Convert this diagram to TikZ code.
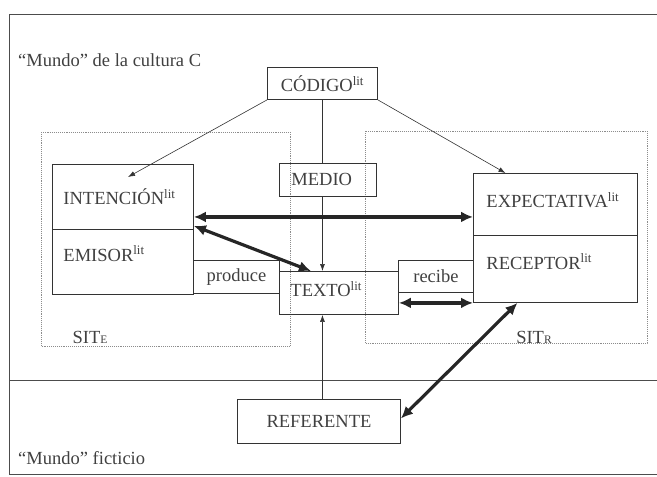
\documentclass[tikz,border=0pt]{standalone}
\usepackage{fontspec}
\setmainfont{Liberation Serif}
\usetikzlibrary{arrows.meta}

\begin{document}
\begin{tikzpicture}[x=1pt, y=-1pt,
  every node/.style={text=black!75, font=\fontsize{18.5}{21}\selectfont},
  box/.style={draw=black!80, line width=0.9pt, inner sep=0pt, anchor=north west},
  lbox/.style={box, align=left, inner xsep=11pt},
  marco/.style={draw=black!70, line width=0.8pt},
  sitbox/.style={draw=black!45, line width=0.9pt, densely dotted},
  flecha/.style={draw=black!80, line width=0.6pt, -{Latex[length=7pt,width=5pt]}},
  linea/.style={draw=black!80, line width=0.6pt},
  doble/.style={draw=black!85, line width=3.2pt,
    {Latex[length=12pt,width=11pt]}-{Latex[length=12pt,width=11pt]}}]

  \useasboundingbox (0,0) rectangle (657,477);

  % --- Frame ---
  \draw[marco] (657,14) -- (9,14) -- (9,474) -- (657,474);
  \draw[marco] (9,380) -- (657,380);

  % --- Situations ---
  \draw[sitbox] (41,132) rectangle (290,346);
  \draw[sitbox] (365,131) rectangle (647,343);

  % --- Labels ---
  \node[anchor=west, inner sep=0pt] (mundoC) at (18,60) {“Mundo” de la cultura C};
  \node[anchor=west, inner sep=0pt] (mundoF) at (18,458) {“Mundo” ficticio};
  \node[inner sep=0pt] (sitE) at (90,337) {SIT{\fontsize{11.5}{12}\selectfont E}};
  \node[inner sep=0pt] (sitR) at (534,337) {SIT{\fontsize{11.5}{12}\selectfont R}};

  % --- Boxes ---
  \node[box, minimum width=110, minimum height=32] (codigo) at (267,67) {CÓDIGO\textsuperscript{lit}};
  \node[lbox, text width=119pt, minimum height=65] (intencion) at (52,164) {INTENCIÓN\textsuperscript{lit}};
  \node[lbox, text width=119pt, minimum height=65, text depth=17pt] (emisor) at (52,229) {EMISOR\textsuperscript{lit}};
  \node[lbox, inner xsep=12pt, text width=73pt, minimum height=33] (medio) at (279,163) {MEDIO};
  \node[box, minimum width=86, minimum height=33] (produce) at (193,260) {produce};
  \node[lbox, text width=97pt, minimum height=43, text depth=8pt] (texto) at (279,271) {TEXTO\textsuperscript{lit}};
  \node[box, minimum width=75, minimum height=32] (recibe) at (398,260) {recibe};
  \node[lbox, inner xsep=13pt, text width=138pt, minimum height=62, text depth=9pt] (expectativa) at (473,173) {EXPECTATIVA\textsuperscript{lit}};
  \node[lbox, inner xsep=13pt, text width=138pt, minimum height=67, text depth=15pt] (receptor) at (473,235) {RECEPTOR\textsuperscript{lit}};
  \node[box, minimum width=163, minimum height=44] (referente) at (237,399) {REFERENTE};

  % --- Code and medium ---
  \coordinate (intencion-in) at (128,177);
  \draw[flecha] (codigo.south west) -- (intencion-in);
  \draw[flecha] (codigo.south east) -- ([xshift=-50pt]expectativa.north);
  \draw[linea] (codigo.south) -- (codigo.south |- medio.north);
  \draw[flecha] (codigo.south |- medio.south) -- (codigo.south |- texto.north);
  \draw[flecha] (codigo.south |- referente.north) -- (codigo.south |- texto.south);

  % --- Thick links ---
  \coordinate (horiz) at ([yshift=-20pt]intencion.east);
  \draw[doble] (horiz) -- (horiz -| expectativa.west);
  \draw[doble] ([yshift=4pt]intencion.south east) -- ([xshift=-28pt]texto.north);
  \draw[doble] (texto.east |- receptor.south west) -- (receptor.south west);
  \draw[doble] ([xshift=-38pt]receptor.south) -- ([yshift=3pt]referente.east);

\end{tikzpicture}
\end{document}
